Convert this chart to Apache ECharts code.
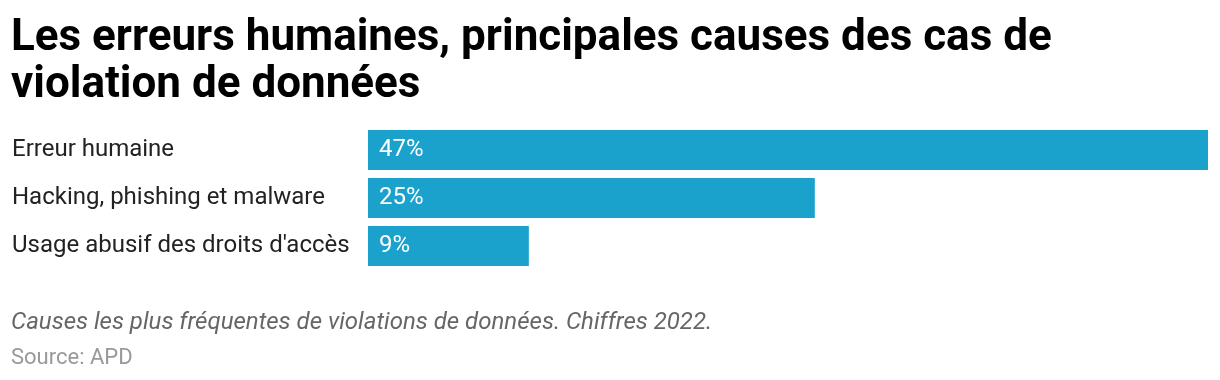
<!DOCTYPE html>
<html><head><meta charset="utf-8">
<script src="https://cdn.jsdelivr.net/npm/echarts@6/dist/echarts.min.js"></script>
<style>html,body{margin:0;padding:0;background:#fff}#c{width:1220px;height:380px}</style>
</head><body><div id="c"></div>
<script>
const categories = ["Erreur humaine", "Hacking, phishing et malware", "Usage abusif des droits d'accès"];
const values = [47, 25, 9];
const titleText = "Les erreurs humaines, principales causes des cas de\nviolation de données";
const noteText = "Causes les plus fréquentes de violations de données. Chiffres 2022.";
const sourceText = "Source: APD";

const chart = echarts.init(document.getElementById('c'), null, {renderer: 'canvas'});
chart.setOption({
  animation: false,
  backgroundColor: '#ffffff',
  title: [
    {text: titleText, left: 11, top: 15, padding: 0, textStyle: {fontFamily: 'Roboto', fontSize: 44, fontWeight: 'bold', color: '#000', lineHeight: 47}},
    {text: noteText, left: 11, top: 310, padding: 0, textStyle: {fontFamily: 'Roboto', fontSize: 24, fontStyle: 'italic', fontWeight: 'normal', color: '#666', lineHeight: 26}},
    {text: sourceText, left: 11, top: 346, padding: 0, textStyle: {fontFamily: 'Roboto', fontSize: 22, fontWeight: 'normal', color: '#999', lineHeight: 24}}
  ],
  grid: {left: 368, right: 12, top: 126, height: 144, containLabel: false},
  xAxis: {type: 'value', min: 0, max: 47, show: false},
  yAxis: {
    type: 'category', data: categories, inverse: true,
    axisLine: {show: false}, axisTick: {show: false}, splitLine: {show: false},
    axisLabel: {align: 'left', margin: 356, fontFamily: 'Roboto', fontSize: 24, color: '#222', padding: [8, 0, 0, 0]}
  },
  series: [{
    type: 'bar', data: values, barWidth: 40,
    itemStyle: {color: '#1aa2cd'},
    label: {show: true, position: 'insideLeft', distance: 11, formatter: '{c}%', fontFamily: 'Roboto', fontSize: 24, color: '#fff', padding: [8, 0, 0, 0]}
  }]
});
</script></body></html>
